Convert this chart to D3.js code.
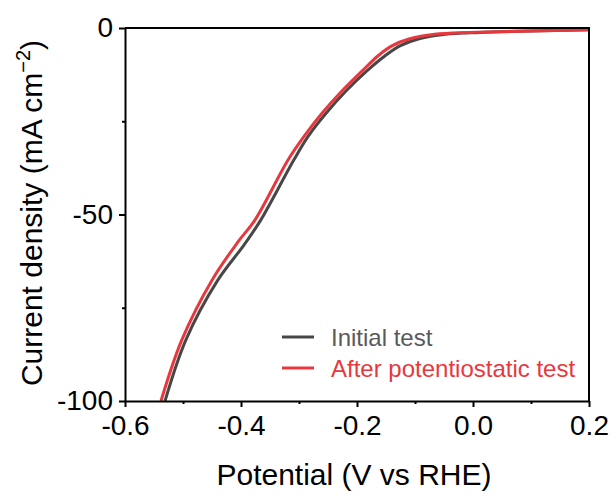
<!DOCTYPE html>
<html>
<head>
<meta charset="utf-8">
<script src="https://cdn.jsdelivr.net/npm/d3@7"></script>
<style>
  html, body { margin: 0; padding: 0; background: #fff; }
  svg { display: block; font-family: "Liberation Sans", Arial, Helvetica, sans-serif; }
</style>
</head>
<body>
<svg id="chart" width="616" height="500"></svg>
<script>
// Polarization curves: potential (V vs RHE) and current density (mA cm^-2)
const initialPotential = [-0.531, -0.495, -0.440, -0.395, -0.366, -0.309, -0.284, -0.253, -0.219, -0.183, -0.152, -0.126, -0.093, -0.048, 0.012, 0.098, 0.200];
const initialCurrent   = [-100, -83.6, -67.6, -58.2, -51.5, -35.4, -29.0, -22.8, -16.9, -11.5, -7.5, -4.8, -2.9, -1.7, -1.2, -0.8, -0.5];

const afterPotential = [-0.538, -0.502, -0.450, -0.405, -0.376, -0.319, -0.291, -0.260, -0.226, -0.191, -0.164, -0.140, -0.109, -0.066, -0.005, 0.098, 0.200];
const afterCurrent   = [-100, -83.6, -67.6, -57.3, -51.5, -35.4, -29.0, -22.8, -16.9, -11.5, -7.5, -4.8, -2.9, -1.7, -1.2, -0.8, -0.5];

const seriesNames = ["Initial test", "After potentiostatic test"];
const seriesColors = ["#474747", "#e8383d"];
const legendTextColors = ["#5a5a5a", "#e8383d"];

const xMajorTicks = [-0.6, -0.4, -0.2, 0.0, 0.2];
const xMinorTicks = [-0.5, -0.3, -0.1, 0.1];
const yMajorTicks = [0, -50, -100];
const yMinorTicks = [-25, -75];

const svg = d3.select("#chart");
const plot = { left: 125, right: 589, top: 28, bottom: 401 };

const x = d3.scaleLinear().domain([-0.6, 0.2]).range([plot.left, plot.right]);
const y = d3.scaleLinear().domain([-100, 0]).range([plot.bottom, plot.top]);

const series = [
  initialPotential.map((v, i) => [v, initialCurrent[i]]),
  afterPotential.map((v, i) => [v, afterCurrent[i]])
];

// curves
const line = d3.line()
  .x(d => x(d[0]))
  .y(d => y(d[1]))
  .curve(d3.curveCatmullRom.alpha(0.5));

svg.append("clipPath").attr("id", "plotClip")
  .append("rect").attr("x", plot.left).attr("y", plot.top - 2)
  .attr("width", plot.right - plot.left).attr("height", plot.bottom - plot.top + 2);

svg.append("g").attr("clip-path", "url(#plotClip)")
  .selectAll("path")
  .data(series)
  .join("path")
  .attr("d", line)
  .attr("fill", "none")
  .attr("stroke", (d, i) => seriesColors[i])
  .attr("stroke-width", 3)
  .attr("stroke-linejoin", "round");

// axes
const fmtX = d => d.toFixed(1);
svg.append("g")
  .attr("transform", `translate(0,${plot.bottom})`)
  .call(d3.axisBottom(x).tickValues(xMajorTicks).tickFormat(fmtX).tickSize(6).tickPadding(8).tickSizeOuter(0));
svg.append("g")
  .attr("transform", `translate(0,${plot.bottom})`)
  .call(d3.axisBottom(x).tickValues(xMinorTicks).tickFormat("").tickSize(3).tickSizeOuter(0))
  .call(g => g.select(".domain").remove());

svg.append("g")
  .attr("transform", `translate(${plot.left},0)`)
  .call(d3.axisLeft(y).tickValues(yMajorTicks).tickFormat(d => String(d)).tickSize(6).tickPadding(6).tickSizeOuter(0));
svg.append("g")
  .attr("transform", `translate(${plot.left},0)`)
  .call(d3.axisLeft(y).tickValues(yMinorTicks).tickFormat("").tickSize(3).tickSizeOuter(0))
  .call(g => g.select(".domain").remove());

svg.selectAll(".domain, .tick line")
  .attr("stroke", "#000")
  .attr("stroke-width", 2);

svg.selectAll(".tick text")
  .attr("fill", "#000")
  .attr("font-size", 28)
  .attr("font-family", "Liberation Sans, Arial, sans-serif");

// frame top and right
svg.append("path")
  .attr("d", `M${plot.left},${plot.top}H${plot.right}V${plot.bottom}`)
  .attr("fill", "none")
  .attr("stroke", "#000")
  .attr("stroke-width", 2);

// axis titles
svg.append("text")
  .attr("x", 354)
  .attr("y", 485)
  .attr("text-anchor", "middle")
  .attr("font-size", 30)
  .attr("fill", "#000")
  .text("Potential (V vs RHE)");

const yTitle = svg.append("text")
  .attr("transform", "translate(42,213) rotate(-90)")
  .attr("text-anchor", "middle")
  .attr("font-size", 30)
  .attr("fill", "#000");
yTitle.append("tspan").text("Current density (mA cm");
yTitle.append("tspan").attr("font-size", 20).attr("dy", -12).text("\u22122");
yTitle.append("tspan").attr("dy", 12).text(")");

// legend
const legendRows = svg.append("g").selectAll("g")
  .data(seriesNames)
  .join("g")
  .attr("transform", (d, i) => `translate(282,${337 + i * 31})`);
legendRows.append("line")
  .attr("x1", 0).attr("x2", 32)
  .attr("stroke", (d, i) => seriesColors[i])
  .attr("stroke-width", 3);
legendRows.append("text")
  .attr("x", 49)
  .attr("y", 9)
  .attr("font-size", 24)
  .attr("fill", (d, i) => legendTextColors[i])
  .text(d => d);
</script>
</body>
</html>
